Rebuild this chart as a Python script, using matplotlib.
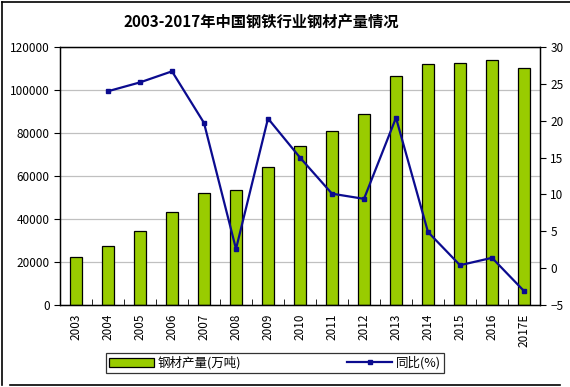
import numpy as np
import matplotlib.pyplot as plt
from matplotlib.lines import Line2D

plt.rcParams['font.family'] = ['Noto Sans CJK SC', 'DejaVu Sans']

# data
years = ['2003', '2004', '2005', '2006', '2007', '2008', '2009', '2010',
         '2011', '2012', '2013', '2014', '2015', '2016', '2017E']
output = [22200, 27300, 34300, 43100, 51900, 53300, 64200, 73800,
          80900, 88700, 106500, 112100, 112600, 113800, 110100]
growth = [np.nan, 24.0, 25.2, 26.7, 19.7, 2.6, 20.3, 15.0,
          10.1, 9.4, 20.4, 4.9, 0.4, 1.4, -3.1]

W, H = 570, 387
fig = plt.figure(figsize=(W/100, H/100), dpi=100)
ax = fig.add_axes([60/W, 1-305/H, 480/W, 258/H])
x = np.arange(len(years))

ax.bar(x, output, width=0.375, color='#99cc00', edgecolor='black', linewidth=0.9,
       label='钢材产量(万吨)', zorder=2)
ax.set_ylim(0, 120000)
ax.set_yticks(range(0, 120001, 20000))
ax.set_xlim(-0.5, len(years) - 0.5)
ax.yaxis.grid(True, color='#c0c0c0', linewidth=0.9, zorder=0)
ax.set_axisbelow(True)
ax.set_xticks(x)
ax.set_xticklabels(years, rotation=90, fontsize=8.5)
ax.set_xticks(np.arange(-0.5, len(years)), minor=True)
ax.tick_params(axis='x', which='major', length=0, pad=6)
ax.tick_params(axis='x', which='minor', length=4, direction='in')
ax.tick_params(axis='y', labelsize=8.5, length=4)

ax2 = ax.twinx()
ax2.plot(x, growth, color='#0b0b8f', linewidth=1.6, marker='s', markersize=3.5,
         label='同比(%)', zorder=3)
ax2.set_ylim(-5, 30)
ax2.set_yticks(range(-5, 31, 5))
ax2.tick_params(axis='y', labelsize=8.5, length=4)

for a in (ax, ax2):
    for s in a.spines.values():
        s.set_linewidth(0.9)

fig.text(261/W, 1-22/H, '2003-2017年中国钢铁行业钢材产量情况', ha='center', va='center',
         fontsize=11, fontweight='bold')

h1, l1 = ax.get_legend_handles_labels()
h2, l2 = ax2.get_legend_handles_labels()
leg = fig.legend(h1 + h2, l1 + l2, loc='center', bbox_to_anchor=(275/W, 1-363/H),
                 ncol=2, fontsize=9, frameon=True, fancybox=False, edgecolor='black',
                 columnspacing=8.5, handlelength=3.6, handletextpad=0.3,
                 borderpad=0.25, borderaxespad=0)
leg.get_frame().set_linewidth(0.9)

# outer frame lines of the picture (top, left, bottom)
for xs, ys in [((2, W), (2, 2)), ((2, 2), (2, H - 2)), ((10, 560), (385, 385))]:
    fig.add_artist(Line2D([v/W for v in xs], [1 - v/H for v in ys],
                          transform=fig.transFigure, color='black', linewidth=1.2))

fig.savefig('out.png', dpi=100)
